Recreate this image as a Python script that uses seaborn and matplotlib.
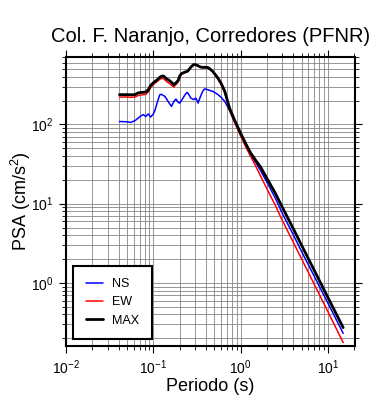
import numpy as np
import pandas as pd
import matplotlib
matplotlib.use("Agg")
import matplotlib.pyplot as plt
import seaborn as sns

title = "Col. F. Naranjo, Corredores (PFNR)"
xlabel = "Periodo (s)"
ylabel = "PSA (cm/s$^2$)"

periods = [0.041, 0.05, 0.055, 0.062, 0.067, 0.072, 0.077, 0.082, 0.088, 0.093,
           0.1, 0.105, 0.112, 0.119, 0.124, 0.13, 0.136, 0.142, 0.15, 0.162,
           0.172, 0.182, 0.193, 0.201, 0.21, 0.23, 0.244, 0.25, 0.27, 0.29,
           0.307, 0.318, 0.326, 0.35, 0.37, 0.389, 0.42, 0.443, 0.48, 0.519,
           0.55, 0.6, 0.66, 0.75, 0.85, 1.0, 1.15, 1.3, 1.5, 1.7,
           2.0, 2.5, 3.0, 4.0, 5.0, 7.0, 10.0, 15.0]

ns = [109, 108, 106, 112, 120, 128, 133, 126, 136, 124,
      135, 153, 195, 238, 240, 232, 226, 210, 190, 169,
      195, 209, 190, 186, 200, 235, 254, 248, 215, 206,
      215, 200, 186, 230, 265, 281, 275, 269, 262, 249,
      238, 220, 195, 150, 110, 75, 54, 41, 33, 26,
      18.8, 11.8, 7.6, 4.1, 2.5, 1.21, 0.56, 0.231]

ew = [222, 222, 220, 222, 232, 236, 238, 240, 258, 290,
      318, 333, 352, 372, 380, 382, 365, 348, 335, 312,
      298, 318, 345, 395, 425, 450, 460, 468, 525, 565,
      560, 555, 545, 525, 520, 522, 520, 500, 460, 410,
      375, 318, 250, 150, 108, 72, 52, 40, 29.5, 22.3,
      15.5, 9.6, 6.2, 3.3, 2.02, 0.96, 0.437, 0.177]

mx = [238, 238, 237, 238, 250, 253, 255, 257, 275, 310,
      335, 350, 370, 395, 405, 410, 395, 376, 365, 340,
      318, 335, 360, 410, 438, 458, 468, 475, 530, 570,
      565, 560, 550, 530, 525, 527, 525, 505, 468, 420,
      386, 330, 262, 160, 115, 78, 57, 44, 35, 29,
      21, 13.6, 9.1, 4.9, 3.0, 1.44, 0.66, 0.273]

series_names = ["NS", "EW", "MAX"]
series_colors = ["#0000ff", "#ff0000", "#000000"]
series_widths = [1.1, 1.1, 2.0]

sns.set_theme(style="ticks")
plt.rcParams["font.family"] = ["Liberation Sans", "DejaVu Sans"]
plt.rcParams["mathtext.fontset"] = "custom"
plt.rcParams["mathtext.rm"] = "Liberation Sans"
plt.rcParams["mathtext.it"] = "Liberation Sans"
plt.rcParams["mathtext.default"] = "regular"
plt.rcParams["text.color"] = "black"
plt.rcParams["axes.labelcolor"] = "black"
plt.rcParams["xtick.color"] = "black"
plt.rcParams["ytick.color"] = "black"

fig = plt.figure(figsize=(3.9, 4.0), dpi=100)
ax = fig.add_axes([66/390, 1-346/400, (355-66)/390, (346-57)/400])

for name, vals, col, lw in zip(series_names, [ns, ew, mx], series_colors, series_widths):
    df = pd.DataFrame({"Periodo": periods, "PSA": vals})
    sns.lineplot(data=df, x="Periodo", y="PSA", ax=ax, color=col, lw=lw,
                 label=name, estimator=None, sort=False)

ax.set_xscale("log")
ax.set_yscale("log")
ax.set_xlim(0.01, 20.5)
ax.set_ylim(0.16, 710)

ax.grid(True, which="both", color="#858585", lw=0.6)
ax.set_axisbelow(True)
for s in ax.spines.values():
    s.set_linewidth(1.5)
    s.set_color("black")
    s.set_visible(True)
ax.tick_params(which="both", direction="out", top=True, right=True,
               colors="black", labelsize=10)
ax.tick_params(which="major", length=5, width=0.8, pad=4)
ax.tick_params(which="minor", length=3, width=0.6)
ax.xaxis.set_major_locator(matplotlib.ticker.LogLocator(base=10, numticks=10))
ax.yaxis.set_major_locator(matplotlib.ticker.LogLocator(base=10, numticks=10))

ax.set_title(title, fontsize=14.5, pad=11, color="black")
ax.set_xlabel(xlabel, fontsize=13, labelpad=1, color="black")
ax.set_ylabel(ylabel, fontsize=13, color="black")
ax.yaxis.set_label_coords(-0.115, 0.5)

leg = ax.legend(loc="lower left", bbox_to_anchor=(7/289, 7/289), borderaxespad=0,
                fontsize=9, fancybox=False, edgecolor="black", framealpha=1,
                handlelength=1.4, labelspacing=0.5, borderpad=1.0, handletextpad=0.75)
leg.get_frame().set_linewidth(1.5)
for t in leg.get_texts():
    t.set_color("black")

fig.savefig("out.png", dpi=100)
